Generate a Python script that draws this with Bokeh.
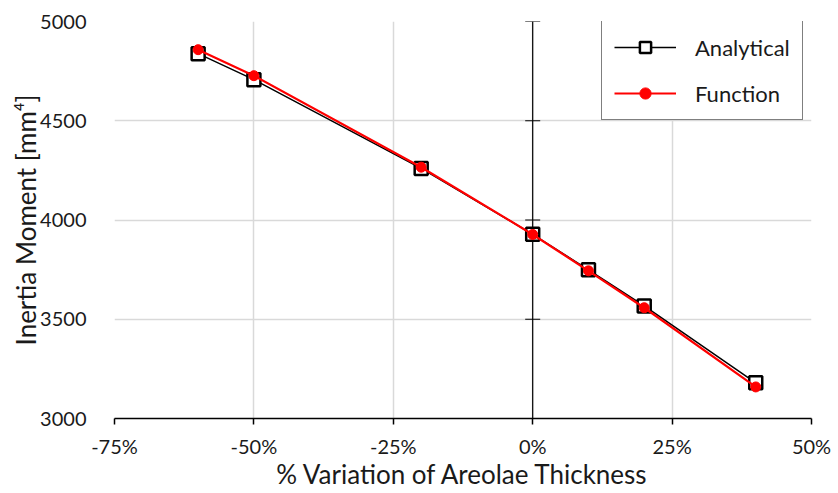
from bokeh.plotting import figure
from bokeh.models import Range1d, FixedTicker, Legend, LegendItem, CustomJSTickFormatter
from bokeh.embed import file_html
from bokeh.resources import INLINE

# data
variation = [-60, -50, -20, 0, 10, 20, 40]
analytical = [4838, 4707, 4260, 3928, 3749, 3567, 3180]
function = [4858, 4727, 4266, 3927, 3744, 3558, 3159]
x_ticks = [-75, -50, -25, 0, 25, 50]
y_ticks = [3000, 3500, 4000, 4500, 5000]

FONT = "Lato"
TXT = "#1a1a1a"

p = figure(width=838, height=493, output_backend="svg", toolbar_location=None,
           x_range=Range1d(-75, 50), y_range=Range1d(3000, 5000),
           min_border_left=114, min_border_right=27, min_border_top=21, min_border_bottom=75)
p.outline_line_color = None
p.background_fill_color = "white"
p.border_fill_color = "white"

# grids
p.xgrid.ticker = FixedTicker(ticks=x_ticks)
p.ygrid.ticker = FixedTicker(ticks=y_ticks)
p.xgrid.grid_line_color = "#d9d9d9"
p.ygrid.grid_line_color = "#d9d9d9"
p.xgrid.grid_line_width = 1.5
p.ygrid.grid_line_width = 1.5

# x axis
xa = p.xaxis[0]
xa.ticker = FixedTicker(ticks=x_ticks)
xa.formatter = CustomJSTickFormatter(code="return tick + '%';")
xa.axis_line_color = "black"
xa.axis_line_width = 1.5
xa.major_tick_line_color = "black"
xa.major_tick_line_width = 1.5
xa.major_tick_out = 6
xa.major_tick_in = 0
xa.minor_tick_line_color = None
xa.major_label_text_font = FONT
xa.major_label_text_font_size = "20px"
xa.major_label_text_color = TXT
xa.major_label_standoff = 9
xa.axis_label = "% Variation of Areolae Thickness"
xa.axis_label_text_font = FONT
xa.axis_label_text_font_size = "26px"
xa.axis_label_text_font_style = "normal"
xa.axis_label_text_color = TXT
xa.axis_label_standoff = -3

# y axis
ya = p.yaxis[0]
ya.ticker = FixedTicker(ticks=y_ticks)
ya.axis_line_color = None
ya.major_tick_line_color = None
ya.minor_tick_line_color = None
ya.major_label_text_font = FONT
ya.major_label_text_font_size = "20px"
ya.major_label_text_color = TXT
ya.major_label_standoff = 22
ya.axis_label = "Inertia Moment [mm\u2074]"
ya.axis_label_text_font = FONT
ya.axis_label_text_font_size = "26px"
ya.axis_label_text_font_style = "normal"
ya.axis_label_text_color = TXT
ya.axis_label_standoff = -5

# vertical axis line at x=0 with cross ticks
p.segment(x0=[0], y0=[y_ticks[0]], x1=[0], y1=[y_ticks[-1]], line_color="black", line_width=1.2)
p.scatter(x=[0] * len(y_ticks[1:]), y=y_ticks[1:], marker="dash", size=15,
          line_color="black", line_width=1.2)

# series
l1 = p.line(variation, analytical, line_color="black", line_width=1.5)
m1 = p.scatter(variation, analytical, marker="square", size=13, fill_color="white",
               line_color="black", line_width=2.5)
l2 = p.line(variation, function, line_color="#ff0000", line_width=2.2)
m2 = p.scatter(variation, function, marker="circle", size=10, fill_color="#ff0000",
               line_color="#ff0000")

legend = Legend(items=[LegendItem(label="Analytical", renderers=[l1, m1]),
                       LegendItem(label="Function", renderers=[l2, m2])],
                location=(487, 298))
legend.border_line_color = "black"
legend.border_line_width = 1.5
legend.background_fill_alpha = 1
legend.label_text_font = FONT
legend.label_text_font_size = "22px"
legend.label_text_color = TXT
legend.glyph_width = 62
legend.glyph_height = 28
legend.label_standoff = 19
legend.spacing = 18
legend.padding = 12
legend.margin = 0
p.add_layout(legend, "center")

open("out.html", "w").write(file_html(p, INLINE))
